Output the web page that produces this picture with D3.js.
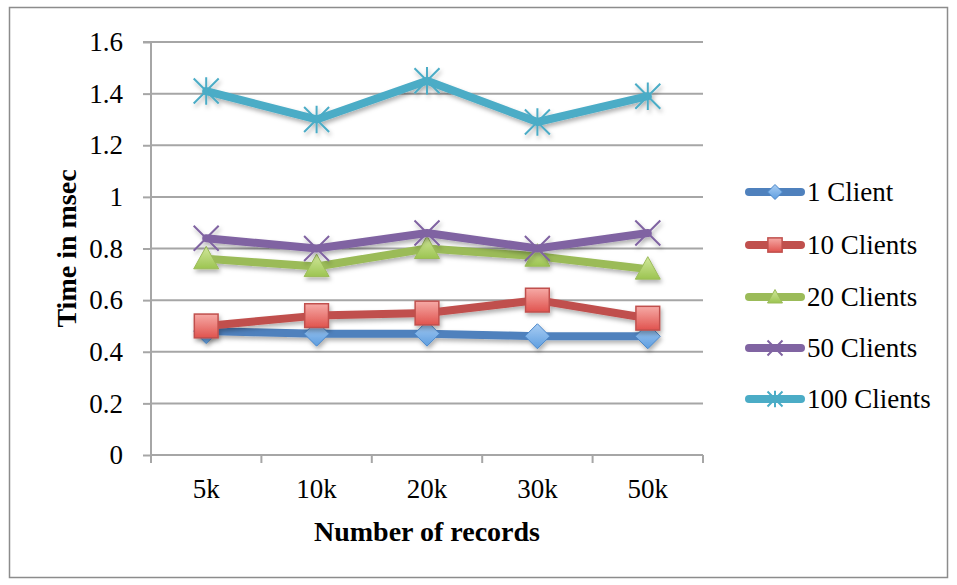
<!DOCTYPE html>
<html><head><meta charset="utf-8">
<script src="https://cdn.jsdelivr.net/npm/d3@7"></script>
<style>html,body{margin:0;padding:0;background:#fff;}</style>
</head><body>
<svg id="chart" width="957" height="585"></svg>
<script>
const categories = ["5k","10k","20k","30k","50k"];
const seriesNames = ["1 Client","10 Clients","20 Clients","50 Clients","100 Clients"];
const s1 = [0.48,0.47,0.47,0.46,0.46];
const s10 = [0.50,0.54,0.55,0.60,0.53];
const s20 = [0.76,0.73,0.80,0.77,0.72];
const s50 = [0.84,0.80,0.86,0.80,0.86];
const s100 = [1.41,1.30,1.45,1.29,1.39];
const yTicks = [0,0.2,0.4,0.6,0.8,1,1.2,1.4,1.6];
const yTickLabels = ["0","0.2","0.4","0.6","0.8","1","1.2","1.4","1.6"];
const colors = ["#4F81BD","#C0504D","#9BBB59","#8064A2","#4BACC6"];
const markers = ["diamond","square","triangle","x","star"];
const allSeries = [s1,s10,s20,s50,s100];

const svg = d3.select("#chart");
const FONT = "'Liberation Serif','Times New Roman',serif";

// defs
const defs = svg.append("defs");
const f = defs.append("filter").attr("id","sh").attr("x","-50%").attr("y","-50%").attr("width","200%").attr("height","200%");
f.append("feDropShadow").attr("dx",1.5).attr("dy",3).attr("stdDeviation",2).attr("flood-color","#000").attr("flood-opacity",0.3);
const grads = [["gBlue","#a9cdf3","#5e9ee0"],["gRed","#f6aaa6","#e0534e"],["gGreen","#d2e89c","#9cc451"]];
grads.forEach(([id,a,b])=>{
  const g = defs.append("linearGradient").attr("id",id).attr("x1",0).attr("y1",0).attr("x2",0).attr("y2",1);
  g.append("stop").attr("offset","0%").attr("stop-color",a);
  g.append("stop").attr("offset","100%").attr("stop-color",b);
});

// border
svg.append("rect").attr("x",9.5).attr("y",7.5).attr("width",938).attr("height",570)
  .attr("fill","none").attr("stroke","#8c8c8c").attr("stroke-width",1.5);

const x0 = 151, x1 = 703, yTop = 42, yBot = 455;
const x = d3.scalePoint().domain(categories).range([x0,x1]).padding(0.5);
const xb = d3.scaleBand().domain(categories).range([x0,x1]);
const y = d3.scaleLinear().domain([0,1.6]).range([yBot,yTop]);

// gridlines
svg.append("g").selectAll("line").data(yTicks.filter(d=>d>0)).join("line")
  .attr("x1",x0).attr("x2",x1).attr("y1",d=>y(d)).attr("y2",d=>y(d))
  .attr("stroke","#a6a6a6").attr("stroke-width",2);

// y axis
const yAxis = d3.axisLeft(y).tickValues(yTicks).tickFormat((d,i)=>yTickLabels[i]).tickSize(8).tickPadding(20);
const gy = svg.append("g").attr("transform",`translate(${x0},0)`).call(yAxis);
gy.select(".domain").attr("stroke","#a6a6a6").attr("stroke-width",2).attr("d",`M-8,${yTop}H0V${yBot}`);
gy.selectAll(".tick line").attr("stroke","#a6a6a6").attr("stroke-width",2);
gy.selectAll("text").attr("font-family",FONT).attr("font-size",27).attr("fill","#000");

// x axis
const bounds = categories.map(c=>xb(c)).concat([x1]);
svg.append("line").attr("x1",x0).attr("x2",x1).attr("y1",yBot).attr("y2",yBot).attr("stroke","#a6a6a6").attr("stroke-width",2);
svg.append("g").selectAll("line").data(bounds).join("line")
  .attr("x1",d=>d).attr("x2",d=>d).attr("y1",yBot).attr("y2",yBot+8).attr("stroke","#a6a6a6").attr("stroke-width",2);
svg.append("g").selectAll("text").data(categories).join("text")
  .attr("x",d=>x(d)).attr("y",498).attr("text-anchor","middle")
  .attr("font-family",FONT).attr("font-size",27).text(d=>d);

// axis titles
svg.append("text").attr("x",(x0+x1)/2).attr("y",541).attr("text-anchor","middle")
  .attr("font-family",FONT).attr("font-weight","bold").attr("font-size",28).text("Number of records");
svg.append("text").attr("transform",`translate(76,${(yTop+yBot)/2}) rotate(-90)`).attr("text-anchor","middle")
  .attr("font-family",FONT).attr("font-weight","bold").attr("font-size",28).text("Time in msec");

function drawMarker(g, type, cx, cy, s, i){
  const h = s/2;
  if(type==="diamond"){
    g.append("path").attr("d",`M${cx},${cy-h}L${cx+h},${cy}L${cx},${cy+h}L${cx-h},${cy}Z`)
      .attr("fill","url(#gBlue)").attr("stroke","#4a86c8").attr("stroke-width",1);
  } else if(type==="square"){
    const q = h*0.95;
    g.append("rect").attr("x",cx-q).attr("y",cy-q).attr("width",2*q).attr("height",2*q)
      .attr("fill","url(#gRed)").attr("stroke","#c0504d").attr("stroke-width",1.5);
  } else if(type==="triangle"){
    g.append("path").attr("d",`M${cx},${cy-h}L${cx+h},${cy+h*0.8}L${cx-h},${cy+h*0.8}Z`)
      .attr("fill","url(#gGreen)").attr("stroke","#9bbb59").attr("stroke-width",1);
  } else if(type==="x"){
    g.append("path").attr("d",`M${cx-h},${cy-h}L${cx+h},${cy+h}M${cx-h},${cy+h}L${cx+h},${cy-h}`)
      .attr("stroke",colors[i]).attr("stroke-width",2).attr("fill","none");
  } else {
    g.append("path").attr("d",`M${cx-h},${cy-h}L${cx+h},${cy+h}M${cx-h},${cy+h}L${cx+h},${cy-h}M${cx},${cy-h*1.1}L${cx},${cy+h*1.1}`)
      .attr("stroke",colors[i]).attr("stroke-width",2).attr("fill","none");
  }
}

const line = d3.line().x((d,j)=>x(categories[j])).y(d=>y(d));
allSeries.forEach((vals,i)=>{
  const g = svg.append("g").attr("filter","url(#sh)");
  g.append("path").datum(vals).attr("d",line).attr("fill","none").attr("stroke",colors[i])
    .attr("stroke-width",8).attr("stroke-linejoin","round").attr("stroke-linecap","round");
  vals.forEach((v,j)=>drawMarker(g, markers[i], x(categories[j]), y(v), 25, i));
});

// legend
const legY = [192,245,297,348,399];
seriesNames.forEach((n,i)=>{
  const g = svg.append("g");
  g.append("line").attr("x1",749).attr("x2",801).attr("y1",legY[i]).attr("y2",legY[i])
    .attr("stroke",colors[i]).attr("stroke-width",8).attr("stroke-linecap","round");
  drawMarker(g, markers[i], 775, legY[i], 15, i);
  g.append("text").attr("x",807).attr("y",legY[i]+9)
    .attr("font-family",FONT).attr("font-size",27).text(n);
});
</script>
</body></html>
